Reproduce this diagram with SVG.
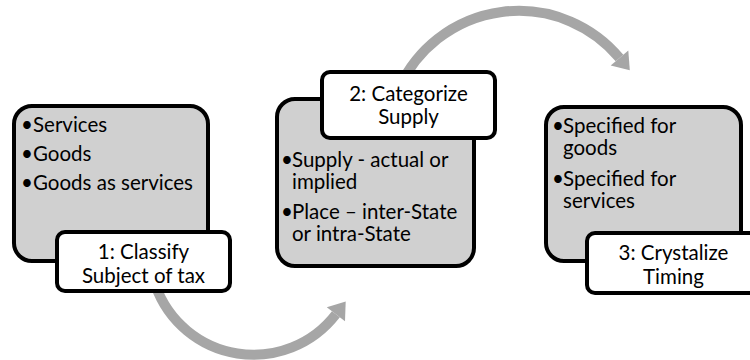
<svg xmlns="http://www.w3.org/2000/svg" width="750" height="360" viewBox="0 0 750 360">
<style>
.box{fill:#d0d0d0;stroke:#000;stroke-width:4}
.lbl{fill:#fff;stroke:#000;stroke-width:4}
.t{font-family:Lato,"Liberation Sans",sans-serif;font-size:20.5px;fill:#000}
.c{text-anchor:middle}
.arc{fill:none;stroke:#a6a6a6;stroke-width:10}
.head{fill:#a6a6a6}
</style>
<rect width="750" height="360" fill="#fff"/>
<g id="connectors">
<path class="arc" d="M 155.6 285.8 A 104 104 0 0 0 335.9 314.2"/>
<polygon class="head" points="345.7,301.6 345,321.2 326.8,307.2"/>
<path class="arc" d="M 399.7 86.7 A 131.3 131.3 0 0 1 619.5 58"/>
<polygon class="head" points="629.8,70.3 628.3,50.6 610.7,65.4"/>
</g>
<g id="node1">
<rect class="box" x="14" y="106" width="194" height="155" rx="18"/>
<text class="t" y="132"><tspan x="21">•</tspan><tspan x="33">Services</tspan></text>
<text class="t" y="161"><tspan x="21">•</tspan><tspan x="33">Goods</tspan></text>
<text class="t" y="190"><tspan x="21">•</tspan><tspan x="33">Goods as services</tspan></text>
<rect class="lbl" x="57" y="232" width="173" height="59" rx="8"/>
<text class="t c" x="143.5" y="259">1: Classify</text>
<text class="t c" x="143.5" y="283">Subject of tax</text>
</g>
<g id="node2">
<rect class="box" x="277" y="99" width="197" height="167" rx="18"/>
<text class="t" y="167"><tspan x="281">•</tspan><tspan x="292">Supply - actual or</tspan></text>
<text class="t" x="292" y="189">implied</text>
<text class="t" y="219"><tspan x="281">•</tspan><tspan x="292">Place – inter-State</tspan></text>
<text class="t" x="292" y="241">or intra-State</text>
<rect class="lbl" x="322" y="72" width="173" height="66" rx="8"/>
<text class="t c" x="408.5" y="101">2: Categorize</text>
<text class="t c" x="408.5" y="124">Supply</text>
</g>
<g id="node3">
<rect class="box" x="546" y="107" width="195" height="154" rx="18"/>
<text class="t" y="133"><tspan x="552">•</tspan><tspan x="563">Specified for</tspan></text>
<text class="t" x="563" y="155">goods</text>
<text class="t" y="186"><tspan x="552">•</tspan><tspan x="563">Specified for</tspan></text>
<text class="t" x="563" y="208">services</text>
<rect class="lbl" x="587" y="233" width="173" height="60" rx="8"/>
<text class="t c" x="673.5" y="260">3: Crystalize</text>
<text class="t c" x="673.5" y="284">Timing</text>
</g>
</svg>
